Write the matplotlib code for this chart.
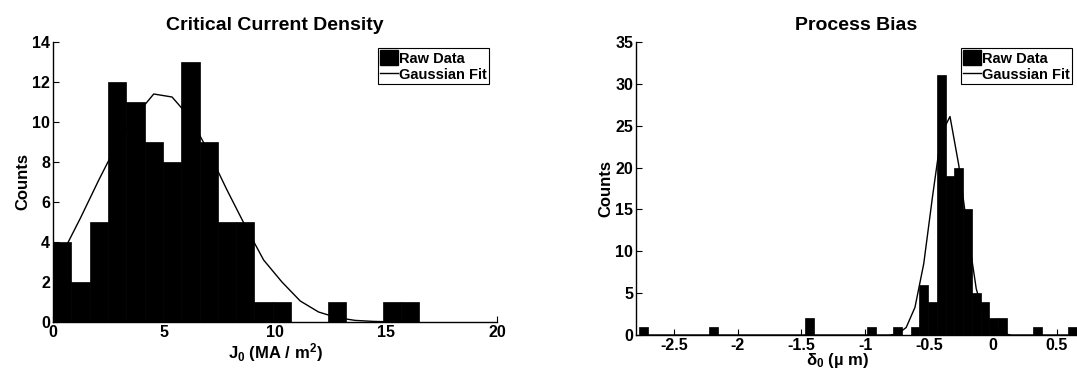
import numpy as np
import matplotlib
matplotlib.use("Agg")
import matplotlib.pyplot as plt
from matplotlib.patches import Patch
from matplotlib.lines import Line2D

plt.rcParams['font.family'] = ['Liberation Sans', 'DejaVu Sans']
plt.rcParams['mathtext.fontset'] = 'custom'
plt.rcParams['mathtext.rm'] = 'Liberation Sans:bold'
plt.rcParams['mathtext.it'] = 'Liberation Sans:bold'
plt.rcParams['mathtext.bf'] = 'Liberation Sans:bold'
plt.rcParams['mathtext.default'] = 'rm'

# ---------------- data ----------------
# Left: critical current density histogram (20 bins from 0 to 16.5 MA/m^2)
jc_range = (0.0, 16.5)
jc_counts = [4, 2, 5, 12, 11, 9, 8, 13, 9, 5, 5, 1, 1, 0, 0, 1, 0, 0, 1, 1]
jc_fit = [3.4, 5.2, 7.1, 8.9, 10.3, 11.4, 11.25, 10.2, 8.5, 6.6,
          4.8, 3.1, 2.0, 1.05, 0.5, 0.22, 0.08, 0.03, 0.01, 0.0]

# Right: process bias histogram (50 bins from -2.772 to 0.658 um)
pb_range = (-2.772, 0.658)
pb_counts = [1, 0, 0, 0, 0, 0, 0, 0, 1, 0,
             0, 0, 0, 0, 0, 0, 0, 0, 0, 2,
             0, 0, 0, 0, 0, 0, 1, 0, 0, 1,
             0, 1, 6, 4, 31, 19, 20, 15, 5, 4,
             2, 2, 0, 0, 0, 1, 0, 0, 0, 1]
pb_fit = [0] * 29 + [0.1, 0.9, 3.3, 8.5, 16.5, 24.0, 26.1, 20.3, 12.5, 5.5,
                     2.0, 0.6, 0.15] + [0] * 8

titles = ["Critical Current Density", "Process Bias"]
xlabels = [r"J$_0$ (MA / m$^2$)", r"δ$_0$ (µ m)"]
legend_labels = ["Raw Data", "Gaussian Fit"]

# ---------------- figure ----------------
W, H = 1077, 377
fig = plt.figure(figsize=(W / 100, H / 100), dpi=100)

def px_axes(x0, x1, y_top, y_bot):
    return fig.add_axes([x0 / W, (H - y_bot) / H, (x1 - x0) / W, (y_bot - y_top) / H])

ax1 = px_axes(53, 497, 42, 322)
ax2 = px_axes(636, 1077, 42, 335)

def draw(ax, rng, counts, fit):
    n = len(counts)
    edges = np.linspace(rng[0], rng[1], n + 1)
    centers = (edges[:-1] + edges[1:]) / 2
    ax.bar(edges[:-1], counts, width=np.diff(edges), align='edge',
           color='black', edgecolor='black', linewidth=0.5, zorder=2)
    ax.plot(centers, fit, color='black', linewidth=1.0, zorder=3)

draw(ax1, jc_range, jc_counts, jc_fit)
draw(ax2, pb_range, pb_counts, pb_fit)

ax1.set_xlim(0, 20)
ax1.set_ylim(0, 14)
ax1.set_xticks([0, 5, 10, 15, 20])
ax1.set_yticks(range(0, 15, 2))

ax2.set_xlim(-2.796, 0.658)
ax2.set_ylim(0, 35)
ax2.set_xticks([-2.5, -2, -1.5, -1, -0.5, 0, 0.5])
ax2.set_xticklabels(["-2.5", "-2", "-1.5", "-1", "-0.5", "0", "0.5"])
ax2.set_yticks(range(0, 36, 5))

for ax, t, xl in [(ax1, titles[0], xlabels[0]), (ax2, titles[1], xlabels[1])]:
    for s in ['top', 'right']:
        ax.spines[s].set_visible(False)
    for s in ['left', 'bottom']:
        ax.spines[s].set_linewidth(1.0)
        ax.spines[s].set_zorder(4)
    ax.tick_params(direction='in', length=4, width=0.8, labelsize=11.5, pad=2)
    for lab in ax.get_xticklabels() + ax.get_yticklabels():
        lab.set_fontweight('bold')
    ax.set_title(t, fontsize=14, fontweight='bold', pad=9)
    ax.set_xlabel(xl, fontsize=12, fontweight='bold', labelpad=1)
    ax.set_ylabel("Counts", fontsize=12, fontweight='bold', labelpad=1)

ax2.xaxis.set_label_coords(0.456, -0.055)

handles = [Patch(facecolor='black', edgecolor='black'),
           Line2D([0], [0], color='black', linewidth=1.0)]

for ax, anchor in [(ax1, (0.982, 0.979)), (ax2, (0.989, 0.980))]:
    leg = ax.legend(handles, legend_labels, loc='upper right', bbox_to_anchor=anchor,
                    borderaxespad=0, fancybox=False, framealpha=1, edgecolor='black',
                    prop={'size': 10.5, 'weight': 'bold'}, handlelength=1.2,
                    handleheight=1.25, handletextpad=0.1, borderpad=0.15,
                    labelspacing=0.05)
    leg.get_frame().set_linewidth(0.8)

fig.savefig("out.png", dpi=100)
